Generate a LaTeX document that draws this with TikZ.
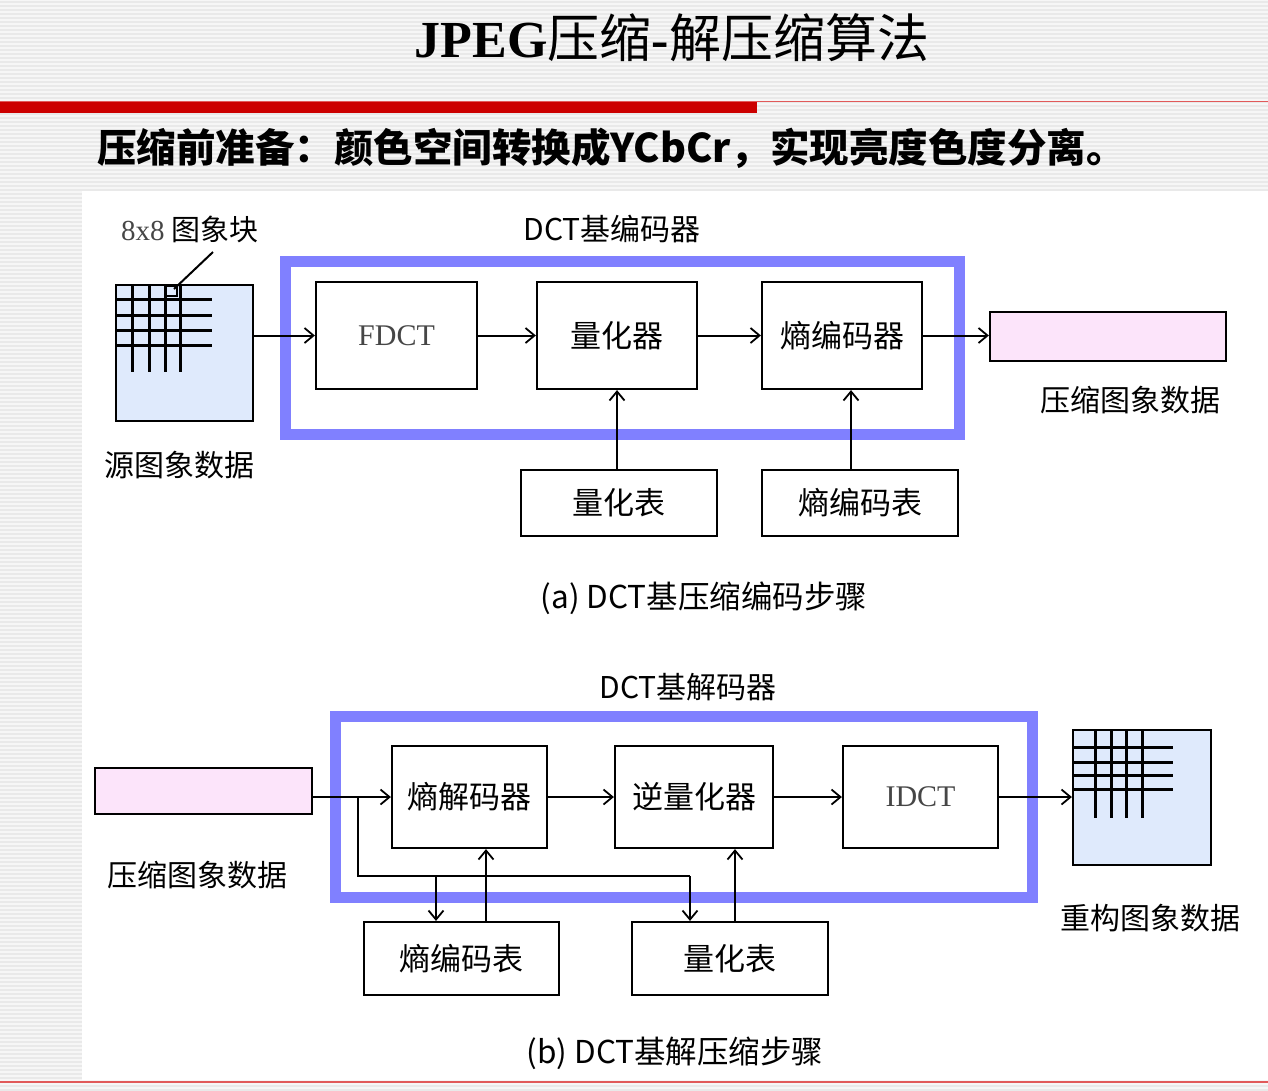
\documentclass[tikz,border=0pt]{standalone}
\usepackage{fontspec}
\setmainfont{Liberation Serif}
\newfontfamily\cjk{Noto Sans CJK SC}
\usetikzlibrary{arrows.meta}
\definecolor{framebl}{RGB}{128,128,255}
\definecolor{imgbl}{RGB}{223,234,252}
\definecolor{pinkf}{RGB}{252,228,250}
\definecolor{redbar}{RGB}{204,0,0}
\definecolor{redthin}{RGB}{225,90,90}
\definecolor{stripe}{RGB}{233,233,233}
\definecolor{bgg}{RGB}{246,246,246}
\definecolor{grayt}{RGB}{70,70,70}
\tikzset{
  box/.style={draw=black, line width=2.2pt, fill=white, inner sep=0pt, font=\cjk\fontsize{31}{36}\selectfont},
  lbl/.style={inner sep=0pt, font=\cjk\fontsize{30}{35}\selectfont},
  captxt/.style={inner sep=0pt, font=\cjk\fontsize{31.5}{36}\selectfont},
  arr/.style={line width=2pt, -{Straight Barb[length=9pt,width=15pt,line width=1.8pt]}},
  frm/.style={draw=framebl, line width=11pt},
  gridl/.style={line width=3pt, line cap=butt},
  plain/.style={line width=2pt}
}
\begin{document}
\begin{tikzpicture}[x=1pt,y=-1pt]
\useasboundingbox (0,0) rectangle (1268,1090);
% background
\fill[bgg] (0,0) rectangle (1268,1090);
\foreach \yy in {2,6,...,1090} \draw[stripe, line width=1.2pt] (0,\yy) -- (1268,\yy);
\fill[white] (82,191) rectangle (1268,1080);
% red rules
\draw[redthin, line width=1.2pt] (0,101.5) -- (1268,101.5);
\fill[redbar] (0,102) rectangle (757,113);
\draw[redthin, line width=1.5pt] (0,1082) -- (1268,1082);
% title
\node[inner sep=0pt, anchor=center] (title) at (672,38)
  {\fontsize{52}{60}\selectfont\bfseries JPEG{\cjk\mdseries 压缩}-{\cjk\mdseries 解压缩算法}};
\node[inner sep=0pt, anchor=west] (sub) at (97,148)
  {\cjk\bfseries\fontsize{39.5}{46}\selectfont 压缩前准备：颜色空间转换成YCbCr，实现亮度色度分离。};

% ---------- (a) ----------
\draw[frm] (285.5,261.5) rectangle (959.5,434.5);
\node[lbl] (enclbl) at (612,229) {DCT基编码器};

\node[draw=black, line width=2.2pt, fill=imgbl, minimum width=137pt, minimum height=136pt, inner sep=0pt] (src) at (184.5,353) {};
\foreach \xx in {132,149,165,180} \draw[gridl] (\xx,285) -- (\xx,372);
\foreach \yy in {299,315,330,345} \draw[gridl] (116,\yy) -- (212,\yy);
\draw[line width=2.5pt] (166,286) rectangle (177,296);
\node[inner sep=0pt] (blk) at (190,229) {\fontsize{29}{34}\selectfont\color{grayt}8x8 {\cjk\color{black}图象块}};
\coordinate (leadA) at (213,252);
\coordinate (leadB) at (174,289);
\draw[line width=2pt] (leadA) -- (leadB);
\node[lbl] (srclbl) at (179,465) {源图象数据};

\node[box, minimum width=161pt, minimum height=107pt, font=\fontsize{30}{34}\selectfont\color{grayt}] (fdct) at (396.5,335.5) {FDCT};
\node[box, minimum width=160pt, minimum height=107pt] (quant) at (617,335.5) {量化器};
\node[box, minimum width=160pt, minimum height=107pt] (ent) at (842,335.5) {熵编码器};
\node[draw=black, line width=2.2pt, fill=pinkf, minimum width=236pt, minimum height=49pt, inner sep=0pt] (out) at (1108,336.5) {};
\node[lbl] (outlbl) at (1130,400) {压缩图象数据};
\node[box, minimum width=196pt, minimum height=66pt] (qtab) at (619,503) {量化表};
\node[box, minimum width=196pt, minimum height=66pt] (etab) at (860,503) {熵编码表};

\draw[arr] (src.east |- fdct.west) -- (fdct.west);
\draw[arr] (fdct.east) -- (quant.west);
\draw[arr] (quant.east) -- (ent.west);
\draw[arr] (ent.east) -- (ent.east -| out.west);
\draw[arr] (quant.south |- qtab.north) -- (quant.south);
\draw[arr] ([xshift=-9pt]etab.north) -- ([xshift=-9pt]etab.north |- ent.south);

\node[captxt] (capa) at (704,598) {(a) DCT基压缩编码步骤};

% ---------- (b) ----------
\draw[frm] (335.5,716.5) rectangle (1032.5,897.5);
\node[lbl] (declbl) at (688,687) {DCT基解码器};

\node[draw=black, line width=2.2pt, fill=pinkf, minimum width=217pt, minimum height=46pt, inner sep=0pt] (bin) at (203.5,791) {};
\node[lbl] (binlbl) at (197,875) {压缩图象数据};
\node[box, minimum width=155pt, minimum height=102pt] (edec) at (469.5,797) {熵解码器};
\node[box, minimum width=158pt, minimum height=102pt] (iq) at (694,797) {逆量化器};
\node[box, minimum width=155pt, minimum height=102pt, font=\fontsize{30}{34}\selectfont\color{grayt}] (idct) at (920.5,797) {IDCT};
\node[draw=black, line width=2.2pt, fill=imgbl, minimum width=138pt, minimum height=135pt, inner sep=0pt] (rimg) at (1142,797.5) {};
\foreach \xx in {1095,1111,1126,1142} \draw[gridl] (\xx,730) -- (\xx,818);
\foreach \yy in {747,762,775,789} \draw[gridl] (1073,\yy) -- (1173,\yy);
\node[lbl] (rimglbl) at (1150,918) {重构图象数据};
\node[box, minimum width=195pt, minimum height=73pt] (etab2) at (461.5,958.5) {熵编码表};
\node[box, minimum width=196pt, minimum height=73pt] (qtab2) at (730,958.5) {量化表};

\draw[arr] (bin.east |- edec.west) -- (edec.west);
\draw[arr] (edec.east) -- (iq.west);
\draw[arr] (iq.east) -- (idct.west);
\draw[arr] (idct.east) -- (idct.east -| rimg.west);

\coordinate (br) at (358,797);
\coordinate (bq) at (690,876);
\coordinate (be) at (436,876);
\draw[plain] (br) |- (bq);
\draw[arr] (be) -- (be |- etab2.north);
\draw[arr] (bq) -- (bq |- qtab2.north);
\draw[arr] ([xshift=24.5pt]etab2.north) -- ([xshift=24.5pt]etab2.north |- edec.south);
\draw[arr] ([xshift=5pt]qtab2.north) -- ([xshift=5pt]qtab2.north |- iq.south);

\node[captxt] (capb) at (675,1053) {(b) DCT基解压缩步骤};
\end{tikzpicture}
\end{document}
